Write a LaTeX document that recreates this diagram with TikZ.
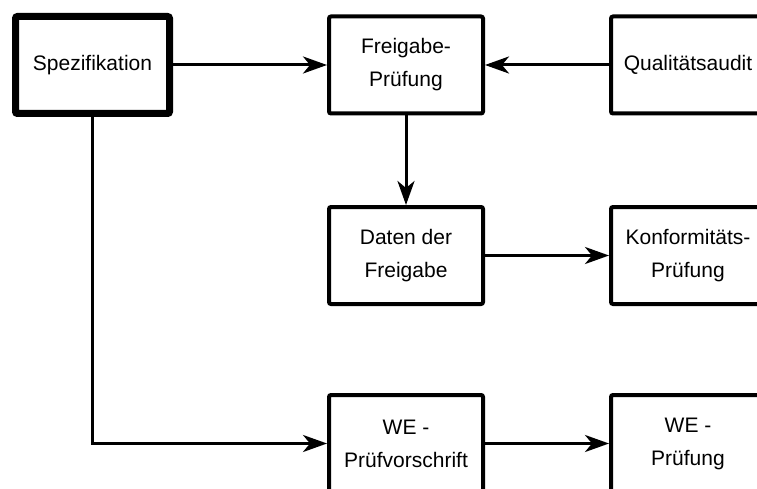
\documentclass[tikz,border=0pt]{standalone}
\usepackage{fontspec}
\setmainfont{Liberation Sans}
\usetikzlibrary{arrows.meta,positioning}

\tikzset{
  box/.style={draw, line width=4pt, rounded corners=2pt, fill=white,
    minimum width=154pt, minimum height=97pt, inner sep=0pt, align=center,
    font=\fontsize{21}{33}\selectfont},
  mainbox/.style={box, line width=7pt},
  arr/.style={line width=3pt, -{Stealth[length=24pt,width=17pt,inset=7pt]}}
}

\begin{document}
\begin{tikzpicture}[x=1pt, y=-1pt]
    \useasboundingbox (0, 0) rectangle (757, 489);

    % Boxes
    \node[mainbox] (spez) at (92.5, 65) {Spezifikation};
    \node[box] (frei) at (406, 65) {Freigabe-\\Prüfung};
    \node[box] (qual) at (688, 65) {Qualitätsaudit};
    \node[box] (daten) at (406, 255.5) {Daten der\\Freigabe};
    \node[box] (konf) at (688, 255.5) {Konformitäts-\\Prüfung};
    \node[box] (wepv) at (406, 443.5) {WE -\\Prüfvorschrift};
    \node[box] (wepr) at (688, 443.5) {WE -\\Prüfung};

    % Connectors
    \draw[arr] (spez) -- (frei);
    \draw[arr] (qual) -- (frei);
    \draw[arr] (frei) -- (daten);
    \draw[arr] (daten) -- (konf);
    \draw[arr] (spez.south) |- (wepv.west);
    \draw[arr] (wepv) -- (wepr);
\end{tikzpicture}
\end{document}
